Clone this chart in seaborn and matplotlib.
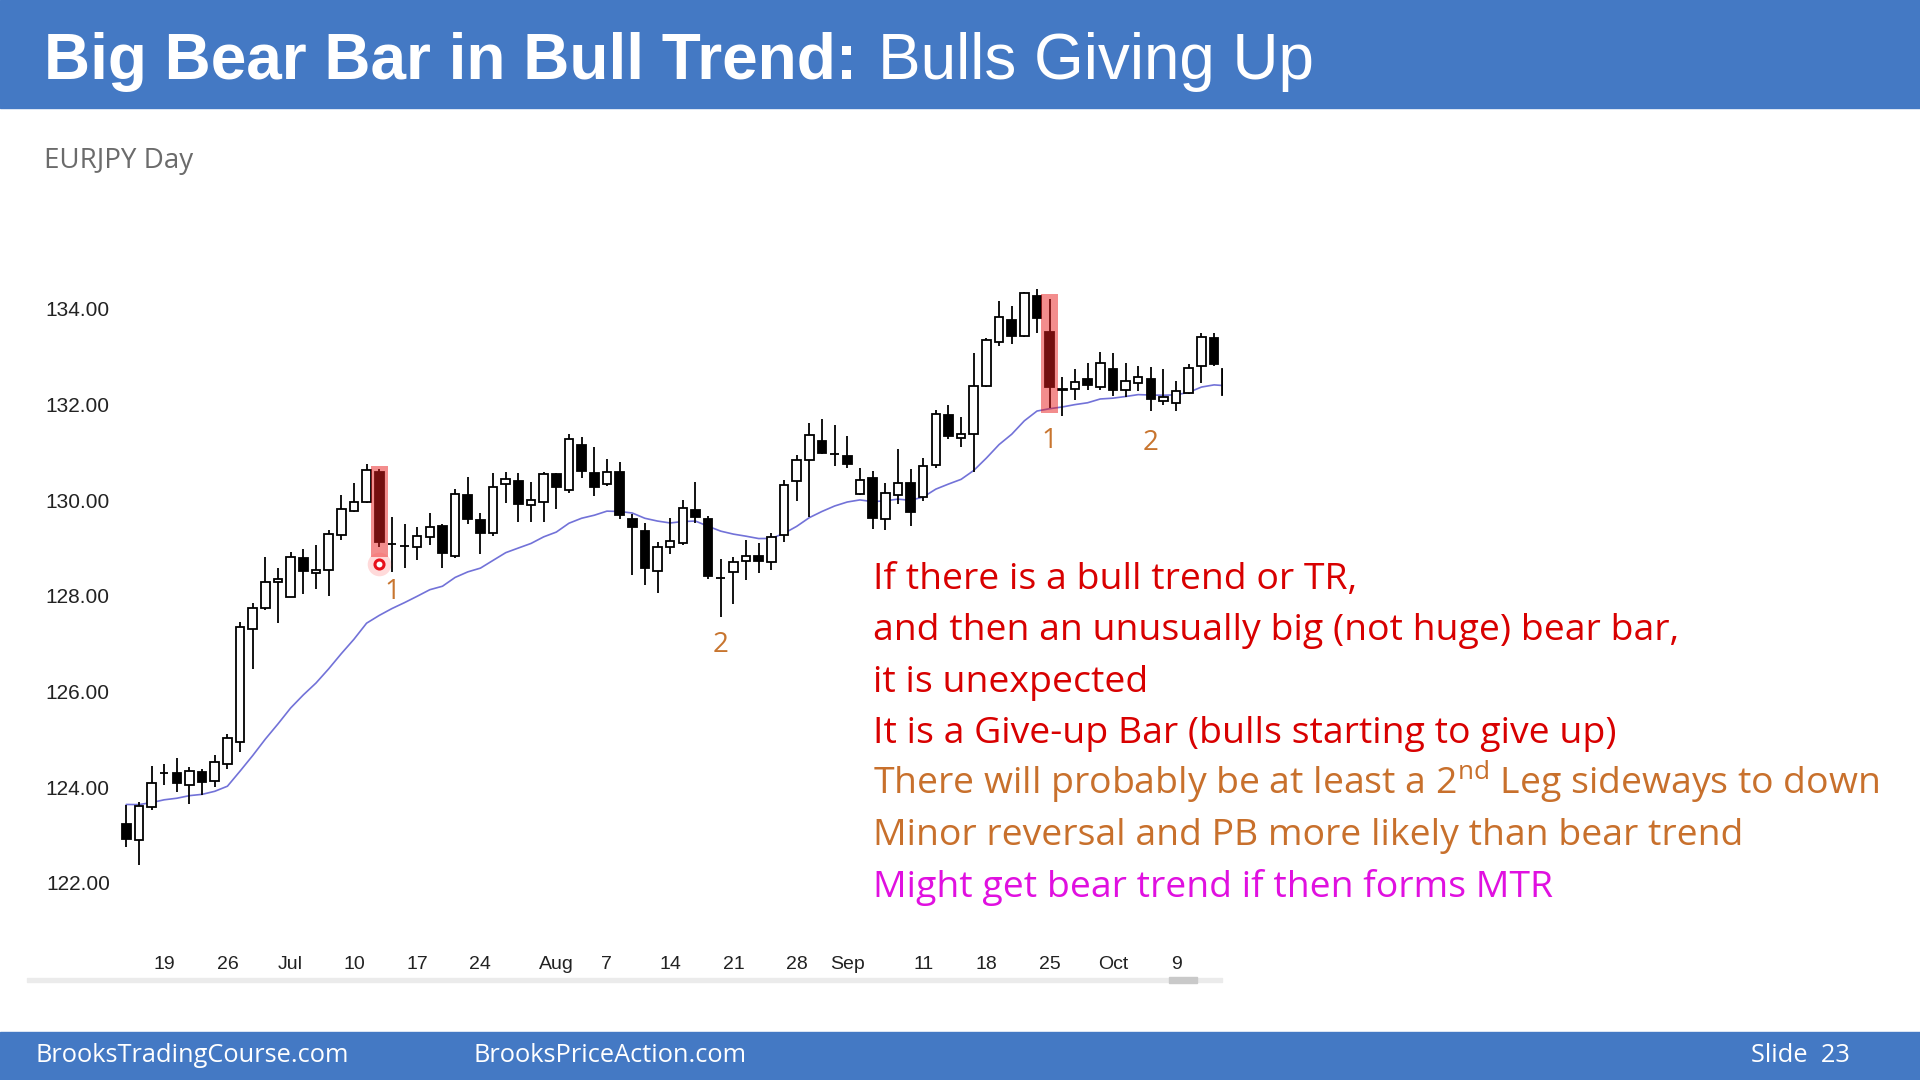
import pandas as pd
import seaborn as sns
import matplotlib.pyplot as plt
from matplotlib.patches import Rectangle
from matplotlib.transforms import IdentityTransform
from matplotlib import font_manager

# --- EURJPY daily bars, 14 Jun - 13 Oct 2017 ---
opens = [123.24, 122.90, 123.59, 124.29, 124.29, 124.04, 124.32, 124.13, 124.48, 124.95,
         127.31, 127.75, 128.29, 127.98, 128.78, 128.48, 128.53, 129.27, 129.77, 129.96,
         130.59, 129.09, 129.04, 129.01, 129.23, 129.46, 128.83, 130.10, 129.58, 129.32,
         130.33, 130.40, 129.90, 129.96, 130.54, 130.21, 131.16, 130.57, 130.33, 130.58,
         129.60, 129.36, 128.52, 129.01, 129.11, 129.79, 129.60, 128.38, 128.50, 128.73,
         128.83, 128.71, 129.27, 130.40, 130.84, 131.24, 130.96, 130.91, 130.13, 130.47,
         129.60, 130.11, 130.35, 130.06, 130.73, 131.78, 131.29, 131.38, 132.38, 133.31,
         133.76, 133.43, 134.26, 133.50, 132.33, 132.33, 132.53, 132.37, 132.74, 132.30,
         132.45, 132.53, 132.07, 132.02, 132.24, 132.79, 133.39, 132.74]
highs = [123.63, 123.70, 124.44, 124.49, 124.61, 124.42, 124.39, 124.67, 125.11, 127.45,
         127.84, 128.81, 128.57, 128.92, 128.97, 129.06, 129.38, 130.10, 130.36, 130.75,
         130.64, 129.65, 129.49, 129.44, 129.72, 129.50, 130.24, 130.49, 129.73, 130.57,
         130.58, 130.57, 130.38, 130.59, 130.57, 131.38, 131.32, 131.10, 130.85, 130.80,
         129.71, 129.53, 129.13, 129.62, 130.01, 130.38, 129.67, 128.76, 128.80, 129.16,
         129.10, 129.32, 130.42, 130.95, 131.60, 131.69, 131.57, 131.34, 130.66, 130.61,
         130.36, 131.06, 130.64, 130.87, 131.88, 131.99, 131.74, 133.08, 133.38, 134.15,
         134.06, 134.35, 134.40, 134.21, 132.58, 132.73, 132.86, 133.10, 133.07, 132.87,
         132.81, 132.77, 132.74, 132.49, 132.84, 133.48, 133.48, 132.76]
lows = [122.76, 122.37, 123.53, 124.04, 123.90, 123.66, 123.83, 124.01, 124.39, 124.74,
        126.48, 127.70, 127.44, 127.97, 128.03, 128.15, 127.99, 129.16, 129.75, 129.93,
        129.02, 128.50, 128.59, 128.75, 129.06, 128.57, 128.78, 129.50, 128.87, 129.25,
        129.93, 129.55, 129.55, 129.55, 129.82, 130.14, 130.45, 130.08, 130.30, 129.60,
        128.43, 128.22, 128.05, 128.88, 129.06, 129.51, 128.36, 127.55, 127.83, 128.33,
        128.48, 128.54, 129.13, 129.99, 129.64, 130.96, 130.71, 130.66, 130.11, 129.39,
        129.37, 129.92, 129.46, 129.97, 130.66, 131.27, 131.11, 130.59, 132.37, 133.22,
        133.26, 133.41, 133.50, 131.92, 131.76, 132.09, 132.29, 132.30, 132.17, 132.16,
        132.27, 131.85, 131.99, 131.85, 132.22, 132.44, 132.79, 132.18]
closes = [122.92, 123.61, 124.08, 124.29, 124.08, 124.34, 124.11, 124.52, 125.03, 127.34,
          127.75, 128.28, 128.34, 128.81, 128.52, 128.53, 129.28, 129.81, 129.95, 130.62,
          129.13, 129.09, 129.04, 129.25, 129.43, 128.89, 130.13, 129.60, 129.32, 130.28,
          130.43, 129.92, 130.00, 130.54, 130.28, 131.27, 130.61, 130.28, 130.58, 129.69,
          129.43, 128.57, 129.01, 129.14, 129.84, 129.65, 128.42, 128.38, 128.70, 128.83,
          128.73, 129.22, 130.31, 130.84, 131.36, 130.99, 130.96, 130.75, 130.42, 129.62,
          130.15, 130.35, 129.76, 130.71, 131.80, 131.34, 131.37, 132.38, 133.34, 133.83,
          133.43, 134.32, 133.80, 132.37, 132.29, 132.46, 132.40, 132.86, 132.29, 132.49,
          132.58, 132.11, 132.15, 132.28, 132.75, 133.40, 132.84, 132.20]
ema_start = 123.64  # 20 EMA at the first bar

dates = pd.bdate_range('2017-06-14', '2017-10-13')

tick_dates = ['2017-06-19', '2017-06-26', '2017-07-03', '2017-07-10', '2017-07-17',
              '2017-07-24', '2017-08-01', '2017-08-07', '2017-08-14', '2017-08-21',
              '2017-08-28', '2017-09-01', '2017-09-11', '2017-09-18', '2017-09-25',
              '2017-10-02', '2017-10-09']
tick_labels = ['19', '26', 'Jul', '10', '17', '24', 'Aug', '7', '14', '21', '28',
               'Sep', '11', '18', '25', 'Oct', '9']
price_ticks = [122, 124, 126, 128, 130, 132, 134]

# big bear bars (highlighted) and the leg labels
highlight_dates = ['2017-07-12', '2017-09-25']
highlight_low = [128.80, 131.81]
highlight_high = [130.72, 134.30]
leg_dates = ['2017-07-13', '2017-08-18', '2017-09-25', '2017-10-05']
leg_prices = [128.08, 126.97, 131.23, 131.19]
leg_texts = ['1', '2', '1', '2']
dot_price = 128.66

notes = [
    ('If there is a bull trend or TR,', '#D80000'),
    ('and then an unusually big (not huge) bear bar,', '#D80000'),
    ('it is unexpected', '#D80000'),
    ('It is a Give-up Bar (bulls starting to give up)', '#D80000'),
    (r'There will probably be at least a 2$^{\mathregular{nd}}$ Leg sideways to down', '#C8702C'),
    ('Minor reversal and PB more likely than bear trend', '#C8702C'),
    ('Might get bear trend if then forms MTR', '#E010E0'),
]

# --- style ---
sns.set_style('white')
plt.rcParams['font.family'] = ['Liberation Sans', 'DejaVu Sans']
names = {f.name for f in font_manager.fontManager.ttflist}
narrow = 'Liberation Sans Narrow' if 'Liberation Sans Narrow' in names else 'Liberation Sans'
BLUE = '#4479C4'
ORANGE = '#C8752F'

fig = plt.figure(figsize=(19.2, 10.8), dpi=100)
px = IdentityTransform()

# header / footer bands
fig.add_artist(Rectangle((0, 1 - 108 / 1080), 1, 108 / 1080, transform=fig.transFigure,
                         color=BLUE, zorder=0))
fig.add_artist(Rectangle((0, 0), 1, 48 / 1080, transform=fig.transFigure,
                         color=BLUE, zorder=0))
# scroll bar under the chart
fig.add_artist(Rectangle((27, 1080 - 982), 1195, 4, transform=px, color='#EBEBEB', zorder=0))
fig.add_artist(Rectangle((1169, 1080 - 983), 28, 6, transform=px, color='#C9C9C9', zorder=0))

renderer = fig.canvas.get_renderer()
t1 = fig.text(44, 1080 - 79, 'Big Bear Bar in Bull Trend:', transform=px, color='white',
              fontsize=46, fontweight='bold', va='baseline', family='Liberation Sans')
x_end = t1.get_window_extent(renderer).x1
fig.text(x_end + 21, 1080 - 79, 'Bulls Giving Up', transform=px, color='white',
         fontsize=46, va='baseline', family='Liberation Sans')

fig.text(44, 1080 - 168, 'EURJPY Day', transform=px, color='#6B6B6B', fontsize=20,
         va='baseline', family='Open Sans')

fig.text(35, 1080 - 1055, 'BrooksTradingCourse.com', transform=px, color='white',
         fontsize=18.3, va='center', family='Open Sans')
fig.text(474, 1080 - 1055, 'BrooksPriceAction.com', transform=px, color='white',
         fontsize=18.3, va='center', family='Open Sans')
fig.text(1850, 1080 - 1055, 'Slide  23', transform=px, color='white',
         fontsize=18.3, va='center', ha='right', family='Open Sans')

for k, (line, col) in enumerate(notes):
    fig.text(873, 1080 - (589 + 51.3 * k), line, transform=px, color=col,
             fontsize=26.9, va='baseline', family='Open Sans')

# --- chart ---
ax = fig.add_axes([109.8 / 1920, 1 - 906.9 / 1080, 1113.4 / 1920, 646.2 / 1080])
ax.set_facecolor('none')

x = list(range(len(dates)))
ema = pd.Series([ema_start] + closes[1:]).ewm(span=20, adjust=False).mean()
sns.lineplot(x=x, y=ema, ax=ax, color='#7272D8', linewidth=1.2, zorder=1)

bottoms = [min(o, c) for o, c in zip(opens, closes)]
heights = [abs(c - o) for o, c in zip(opens, closes)]
fills = ['white' if c >= o else 'black' for o, c in zip(opens, closes)]
ax.vlines(x, lows, highs, colors='black', linewidth=1.3, zorder=2)
ax.bar(x, heights, bottom=bottoms, width=0.68, color=fills, edgecolor='black',
       linewidth=1.3, zorder=3)

hx = dates.get_indexer(pd.to_datetime(highlight_dates))
ax.bar(hx, [h - l for l, h in zip(highlight_low, highlight_high)], bottom=highlight_low,
       width=1.38, color='#E81C1C', alpha=0.5, linewidth=0, zorder=4)
ax.plot(hx[0], dot_price, 'o', ms=17, color='#FF5A5A', alpha=0.22, mew=0, zorder=5)
ax.plot(hx[0], dot_price, 'o', ms=6.5, mfc='white', mec='#E8101A', mew=2.2, zorder=6)

lx = dates.get_indexer(pd.to_datetime(leg_dates))
for xi, p, s in zip(lx, leg_prices, leg_texts):
    ax.text(xi, p, s, color=ORANGE, fontsize=20, family='Open Sans',
            ha='center', va='center')

ax.set_xlim(-1.3, 86.72)
ax.set_ylim(121.5, 135)
ax.set_xticks(dates.get_indexer(pd.to_datetime(tick_dates)))
ax.set_xticklabels(tick_labels, family=narrow)
ax.set_yticks(price_ticks)
ax.set_yticklabels([f'{v:.2f}' for v in price_ticks])
ax.tick_params(axis='y', length=0, pad=0, labelsize=15, labelcolor='#222222')
ax.tick_params(axis='x', length=0, pad=35, labelsize=14, labelcolor='#222222')
ax.grid(False)
sns.despine(ax=ax, left=True, bottom=True)
ax.set_xlabel('')
ax.set_ylabel('')

fig.savefig('out.png', dpi=100, facecolor='white')
